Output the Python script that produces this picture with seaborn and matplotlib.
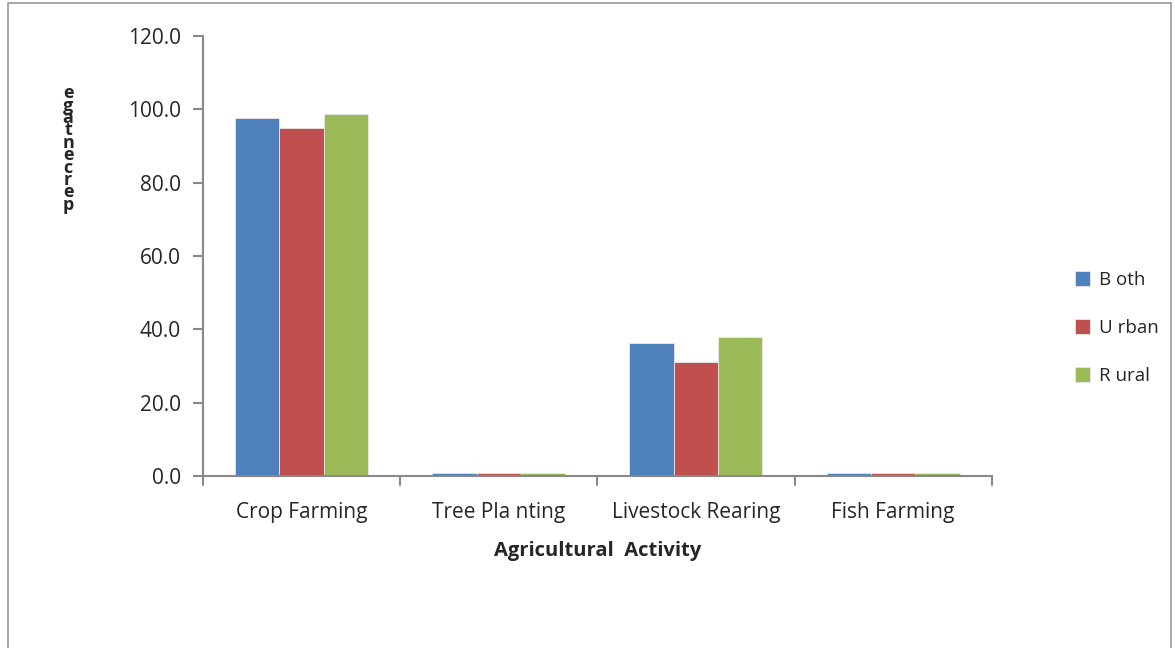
import pandas as pd
import matplotlib.pyplot as plt
import seaborn as sns
from matplotlib.patches import Rectangle

# ---------------- data ----------------
activities = ['Crop Farming', 'Tree Pla nting', 'Livestock Rearing', 'Fish Farming']
groups = ['B oth', 'U rban', 'R ural']
both = [97.6, 0.9, 36.2, 0.9]
urban = [94.9, 0.9, 31.2, 0.9]
rural = [98.8, 0.9, 37.8, 0.9]
colors = ['#4F81BD', '#C0504D', '#9BBB59']

df = pd.DataFrame({
    'Activity': activities * 3,
    'Area': [groups[0]] * 4 + [groups[1]] * 4 + [groups[2]] * 4,
    'Value': both + urban + rural,
})

sns.set_style('white')
plt.rcParams['font.family'] = ['Open Sans', 'DejaVu Sans']

fig = plt.figure(figsize=(11.75, 6.48), dpi=100)
ax = fig.add_axes([0.1728, 0.2654, 0.6712, 0.679])

sns.barplot(data=df, x='Activity', y='Value', hue='Area', hue_order=groups,
            palette=colors, width=0.675, edgecolor='#e8e8e8', linewidth=0.6,
            saturation=1, ax=ax, errorbar=None)

ax.set_ylim(0, 120)
ax.set_xlim(-0.5, 3.5)
ax.set_yticks(range(0, 121, 20))
ax.set_yticklabels([f'{v:.1f}' for v in range(0, 121, 20)], fontsize=15)
ax.tick_params(axis='x', length=0, labelsize=15, pad=19)
ax.tick_params(axis='y', length=7, width=1.5, color='#888888', left=True,
               direction='out', pad=9)

# category boundary ticks on x axis
for b in [-0.5, 0.5, 1.5, 2.5, 3.5]:
    ax.plot([b, b], [0, -0.02], transform=ax.get_xaxis_transform(), color='#888888',
            lw=1.5, clip_on=False)

for side in ['top', 'right']:
    ax.spines[side].set_visible(False)
for side in ['left', 'bottom']:
    ax.spines[side].set_color('#888888')
    ax.spines[side].set_linewidth(1.5)

ax.set_xlabel('Agricultural  Activity', fontsize=14.5, fontweight='bold', labelpad=13)
ax.set_ylabel('')

# stacked (broken) y label as in the original
fig.text(0.058, 0.77, 'e\ng\na\nt\nn\ne\nc\nr\ne\np', fontsize=13, fontweight='bold',
         ha='center', va='center', linespacing=0.6)

leg = ax.legend(loc='center left', bbox_to_anchor=(1.084, 0.336), frameon=False,
                fontsize=13.5, handlelength=0.8, handleheight=0.8, labelspacing=1.6,
                handletextpad=0.5)

# outer frame
fig.patches.append(Rectangle((0.007, -0.01), 0.99, 1.005, transform=fig.transFigure,
                             fill=False, edgecolor='#999999', lw=1.2))

fig.savefig('out.png', dpi=100)
